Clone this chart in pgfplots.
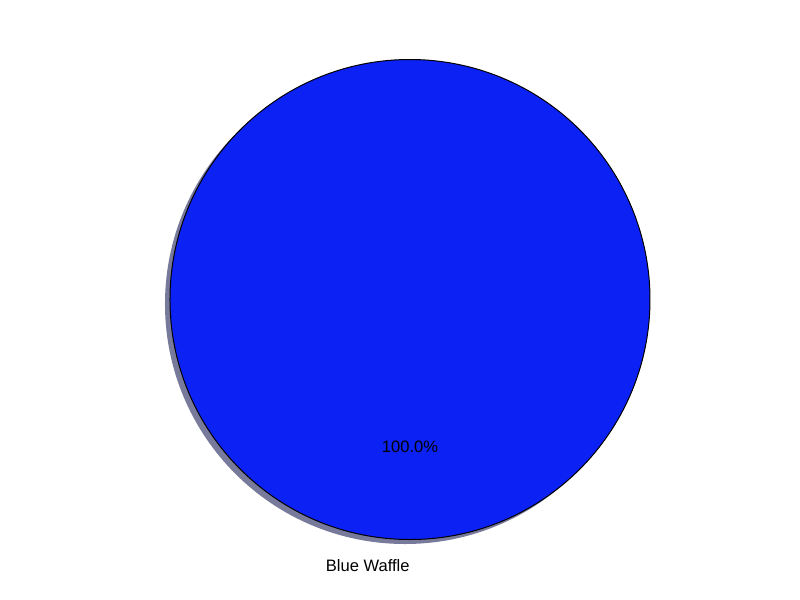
\documentclass[border=0pt]{standalone}
\usepackage{pgfplots}
\usepackage{pgfplotstable}
\pgfplotsset{compat=1.18}
\usepackage{fontspec}
\setmainfont{Liberation Sans}
\definecolor{wedge}{RGB}{12,34,245}
\definecolor{shadowc}{RGB}{120,122,155}
\pgfplotstableread{
label value
{Blue Waffle} 100
}\piedata
\begin{document}
\begin{tikzpicture}
\pgfplotstablegetelem{0}{value}\of\piedata
\let\pievalue\pgfplotsretval
\begin{axis}[
  scale only axis, width=400bp, height=300bp,
  xmin=0, xmax=800, ymin=0, ymax=600,
  hide axis, clip=false,
]
% shadow
\fill[shadowc] (axis cs:405,296) -- ++(90:120bp)
  arc[start angle=90, end angle={90+3.6*\pievalue}, radius=120bp] -- cycle;
% wedge
\fill[wedge] (axis cs:410,300.5) -- ++(90:120bp)
  arc[start angle=90, end angle={90+3.6*\pievalue}, radius=120bp] -- cycle;
\draw[black, line width=0.5pt] (axis cs:410,300.5) ++(90:120bp)
  arc[start angle=90, end angle={90+3.6*\pievalue}, radius=120bp];
\node[font=\fontsize{8.3}{10}\selectfont, anchor=center] at (axis cs:410,153) {100.0\%};
\node[font=\fontsize{8.3}{10}\selectfont, anchor=east, inner xsep=0pt] at (axis cs:410,34) {Blue Waffle};
\end{axis}
\useasboundingbox (0,0) rectangle (400bp,300bp);
\end{tikzpicture}
\end{document}
